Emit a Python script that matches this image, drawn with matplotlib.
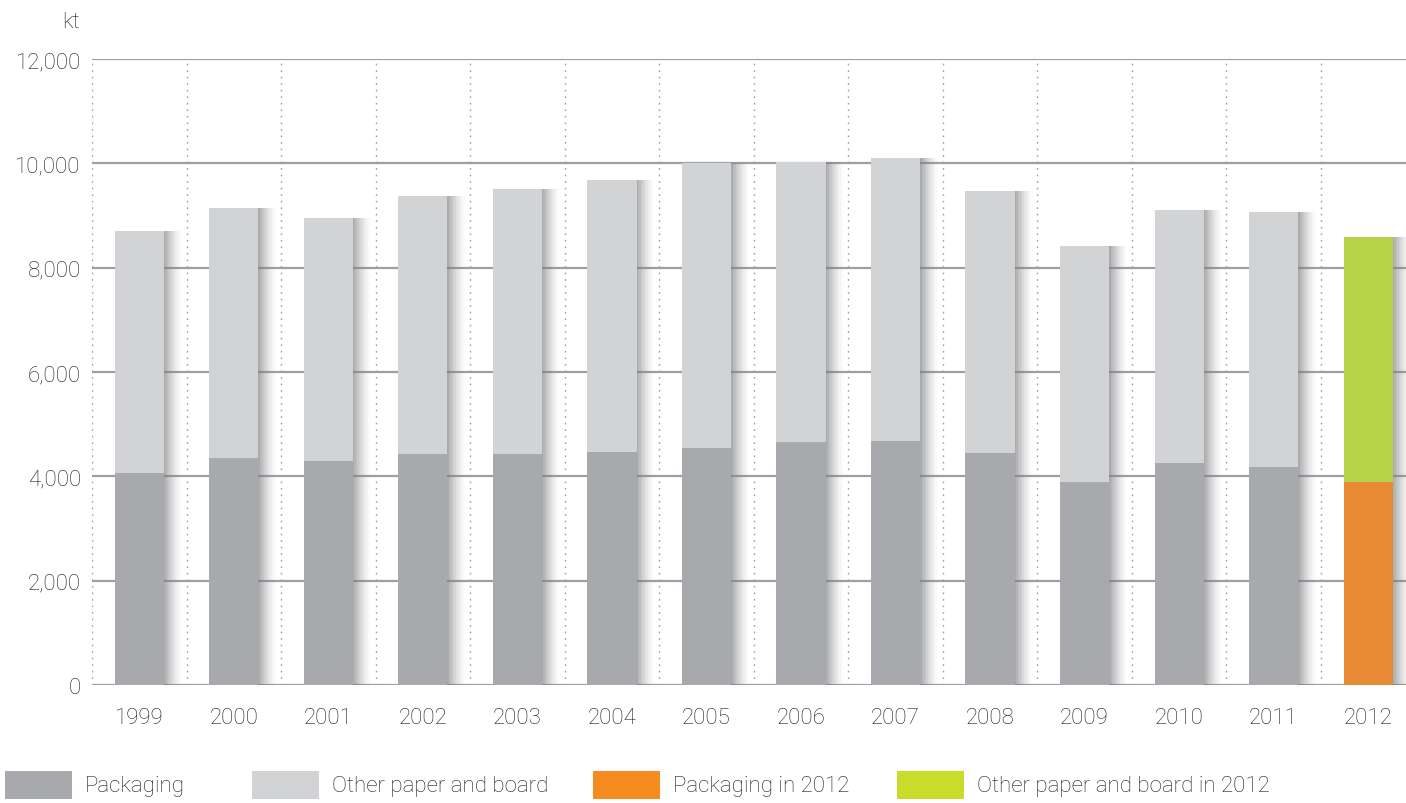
import matplotlib
matplotlib.use("Agg")
import matplotlib.pyplot as plt
from matplotlib.patches import Rectangle
import numpy as np

# paper and board consumption, kt
years = ["1999", "2000", "2001", "2002", "2003", "2004", "2005",
         "2006", "2007", "2008", "2009", "2010", "2011", "2012"]
packaging = [4060, 4350, 4290, 4430, 4430, 4470, 4540,
             4660, 4680, 4440, 3890, 4250, 4170, 3900]
total = [8700, 9140, 8960, 9370, 9500, 9690, 10010,
         10020, 10110, 9470, 8410, 9100, 9060, 8590]
other = [t - p for t, p in zip(total, packaging)]

legend_labels = ["Packaging", "Other paper and board",
                 "Packaging in 2012", "Other paper and board in 2012"]

c_pack = "#a7a9ac"
c_other = "#d1d3d4"
c_pack12 = "#e98b35"
c_other12 = "#b6d34a"
legend_colors = ["#a7a9ac", "#d1d3d4", "#f68c1f", "#c9dc2b"]
txt = "#1e1e1e"

plt.rcParams["font.family"] = ["Roboto", "DejaVu Sans"]
plt.rcParams["font.weight"] = "light"
fs = 16

fig = plt.figure(figsize=(14.06, 8.04), dpi=100)
ax = fig.add_axes([92 / 1406, 1 - 686 / 804, 1 - 92 / 1406, (686 - 60) / 804])

x = np.arange(len(years))
w = 0.52

# soft drop shadow on the right of each bar
n_steps = 12
sh_w = 0.19
for k in range(n_steps):
    ax.bar(x + w / 2 + k * sh_w / n_steps, total, width=sh_w / n_steps,
           align="edge", color="#7d7f82", alpha=0.65 * (1 - k / n_steps) ** 1.5,
           linewidth=0, zorder=2)

pack_cols = [c_pack] * (len(years) - 1) + [c_pack12]
other_cols = [c_other] * (len(years) - 1) + [c_other12]
ax.bar(x, packaging, width=w, color=pack_cols, linewidth=0, zorder=3)
ax.bar(x, other, width=w, bottom=packaging, color=other_cols, linewidth=0, zorder=3)

ax.set_xlim(-0.5, 13.4)
ax.set_ylim(0, 12000)

# grid: solid horizontals, dotted separators between years
for yv in range(0, 12001, 2000):
    ax.axhline(yv, color="#9d9fa2", lw=1.6, zorder=1)
for xv in np.arange(-0.5, 13.5, 1):
    ax.axvline(xv, color="#9d9fa2", lw=1.0, ls=(0, (1.2, 3.5)), zorder=1)

for s in ax.spines.values():
    s.set_visible(False)

ax.set_yticks(range(0, 12001, 2000))
ax.set_yticklabels([f"{v:,}" for v in range(0, 12001, 2000)])
ax.set_xticks(x)
ax.set_xticklabels(years)
ax.tick_params(length=0, labelsize=fs, colors=txt)
ax.tick_params(axis="y", pad=8)
ax.tick_params(axis="x", pad=16)

fig.text(80 / 1406, 1 - 22 / 804, "kt", ha="right", va="center",
         fontsize=fs, color=txt)

# legend along the bottom
patch_x = [5, 252, 593, 897]
for px, col, lab in zip(patch_x, legend_colors, legend_labels):
    fig.patches.append(Rectangle((px / 1406, 1 - 800 / 804), 67 / 1406, 28 / 804,
                                 transform=fig.transFigure, color=col, lw=0))
    fig.text((px + 80) / 1406, 1 - 787 / 804, lab, ha="left", va="center",
             fontsize=fs, color=txt)

fig.savefig("out.png", dpi=100)
